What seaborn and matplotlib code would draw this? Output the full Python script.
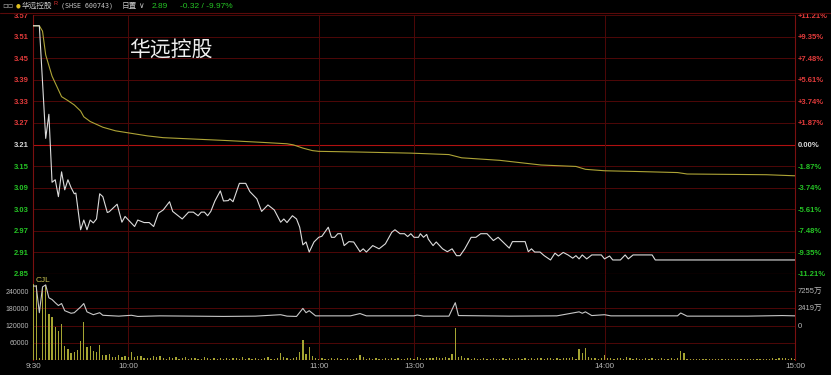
import matplotlib
matplotlib.use("Agg")
import matplotlib.pyplot as plt
import seaborn as sns
import pandas as pd
import numpy as np

# ---------------- data ----------------
prev_close = 3.21
price_ticks = [3.57, 3.51, 3.45, 3.39, 3.33, 3.27, 3.21, 3.15, 3.09, 3.03, 2.97, 2.91, 2.85]
pct_labels = ["+11.21%", "+9.35%", "+7.48%", "+5.61%", "+3.74%", "+1.87%", "0.00%",
              "-1.87%", "-3.74%", "-5.61%", "-7.48%", "-9.35%", "-11.21%"]
time_ticks = [0, 30, 90, 120, 180, 240]
time_labels = ["9:30", "10:00", "11:00", "13:00", "14:00", "15:00"]
vol_ticks = [60000, 120000, 180000, 240000]
vol_labels = ["60000", "120000", "180000", "240000"]
amt_ticks = [120000, 180000, 240000]
amt_labels = ["0", "2419万", "7255万"]

# price line vertices (minute since 9:30 in trading time, price)
price_min = [0, 2, 4, 5, 6, 7, 8, 9, 10, 11, 12, 13, 13.5, 15, 16, 17, 18, 19, 20, 21, 22, 23.4, 24,
             26.5, 28, 29, 32, 33, 35, 36.6, 38, 39.5, 41, 43, 44, 47, 49, 50.5, 52, 53, 54, 55, 56,
             57.3, 59, 60, 61.5, 62, 63, 65, 67, 68.3, 70.5, 72, 74, 76, 78, 79, 80, 81.7, 83, 84,
             85, 86, 87, 88.5, 90, 91, 93, 94, 95, 96, 97, 98, 99.5, 101, 103, 104, 105, 107, 109,
             111, 113, 114, 115.6, 117, 118, 119, 120, 121.4, 122, 123, 124, 124.5, 126, 127, 129,
             130.5, 132, 133.4, 134.5, 136, 138, 139.5, 141, 143, 145, 146.5, 148, 150, 151, 155,
             156, 157, 158, 159.7, 161, 163, 164.4, 165.5, 167, 168.5, 170, 171, 172, 173, 174.4,
             176, 179, 180, 181.6, 182.6, 185, 186.5, 187.5, 189, 195, 196, 240]
price_val = [3.54, 3.54, 3.227, 3.294, 3.105, 3.112, 3.065, 3.134, 3.084, 3.112, 3.09, 3.073, 3.075,
             2.973, 3.0, 2.973, 3.0, 2.992, 3.003, 3.073, 3.065, 3.021, 3.023,
             3.044, 2.994, 3.01, 2.982, 3.0, 2.993, 2.993, 2.982, 3.019, 3.028, 3.051, 3.024, 3.003,
             3.022, 3.022, 3.012, 3.022, 3.022, 3.012, 3.024,
             3.053, 3.081, 3.053, 3.054, 3.059, 3.051, 3.102, 3.102, 3.079, 3.059, 3.024, 3.042,
             3.028, 2.994, 3.003, 2.993, 3.012, 3.003, 2.98,
             2.931, 2.939, 2.911, 2.939, 2.952, 2.955, 2.98, 2.952, 2.952, 2.962, 2.962, 2.929, 2.94,
             2.939, 2.912, 2.92, 2.911, 2.929, 2.92,
             2.934, 2.966, 2.973, 2.962, 2.962, 2.954, 2.962, 2.952, 2.952, 2.962, 2.952, 2.96, 2.947,
             2.929, 2.939, 2.92,
             2.912, 2.92, 2.901, 2.901, 2.92, 2.952, 2.952, 2.962, 2.962, 2.943, 2.952, 2.939, 2.922,
             2.94, 2.94,
             2.912, 2.92, 2.911, 2.911, 2.901, 2.889, 2.908, 2.9, 2.91, 2.903, 2.894, 2.901, 2.892,
             2.903, 2.892,
             2.903, 2.903, 2.892, 2.9, 2.889, 2.889, 2.903, 2.892, 2.903, 2.903, 2.889, 2.889]

# average price line vertices
avg_min = [0, 2, 3, 4, 6, 9, 11, 13, 15, 16, 18, 22, 26, 31, 36, 41, 46, 51, 61, 72, 80, 82, 85, 88,
           90, 103, 119, 131, 135, 147, 160, 171, 174, 180, 190, 203, 206, 231, 240]
avg_val = [3.54, 3.54, 3.525, 3.459, 3.40, 3.343, 3.332, 3.32, 3.303, 3.287, 3.274, 3.258, 3.248,
           3.241, 3.234, 3.229, 3.227, 3.225, 3.221, 3.216, 3.212, 3.209, 3.2, 3.193,
           3.191, 3.189, 3.186, 3.182, 3.173, 3.166, 3.153, 3.149, 3.141, 3.137, 3.135, 3.132, 3.128,
           3.126, 3.123]

# per-minute volume (241 minutes)
volume = [
    265000, 262000, 8000, 252000, 262000, 159000, 150000, 114000, 100000, 127000,
    49000, 39000, 23000, 29000, 35000, 67000, 132000, 47000, 49000, 32000,
    27000, 53000, 18000, 17000, 22000, 12000, 10000, 18000, 9000, 14000,
    9000, 28000, 12000, 14000, 13000, 7000, 6000, 8000, 15000, 9000,
    13000, 7000, 5000, 11000, 6000, 9000, 4000, 7000, 10000, 5000,
    6000, 8000, 4000, 5000, 9000, 6000, 5000, 7000, 4000, 6000,
    5000, 7000, 4000, 6000, 8000, 5000, 9000, 4000, 6000, 5000,
    7000, 5000, 4000, 6000, 9000, 5000, 4000, 6000, 23000, 12000,
    6000, 5000, 7000, 9000, 27000, 69000, 21000, 47000, 15000, 6000,
    5000, 6000, 4000, 5000, 7000, 4000, 6000, 5000, 4000, 6000,
    5000, 4000, 6000, 17000, 10000, 4000, 6000, 5000, 7000, 4000,
    5000, 6000, 4000, 7000, 5000, 6000, 4000, 5000, 6000, 6000,
    5000, 10000, 6000, 5000, 7000, 8000, 6000, 10000, 8000, 7000,
    9000, 6000, 22000, 112000, 12000, 15000, 6000, 7000, 4000, 6000,
    5000, 4000, 6000, 5000, 4000, 6000, 5000, 4000, 7000, 5000,
    6000, 4000, 5000, 6000, 4000, 7000, 5000, 6000, 5000, 8000,
    6000, 5000, 7000, 6000, 5000, 8000, 5000, 6000, 7000, 6000,
    10000, 5000, 38000, 24000, 42000, 10000, 6000, 7000, 5000, 6000,
    16000, 6000, 8000, 5000, 7000, 6000, 5000, 9000, 6000, 5000,
    6000, 5000, 4000, 7000, 5000, 6000, 4000, 5000, 6000, 4000,
    5000, 6000, 4000, 6000, 30000, 24000, 3000, 5000, 4000, 3000,
    4000, 3000, 5000, 4000, 3000, 4000, 3000, 5000, 4000, 3000,
    4000, 3000, 5000, 3000, 4000, 3000, 5000, 4000, 3000, 4000,
    3000, 5000, 4000, 7000, 3000, 6000, 6000, 6000, 3000, 6000, 5000]

# secondary line in volume panel (vertices)
vline_min = [0, 1, 2, 3, 4, 5, 6, 7, 8, 9, 10, 12, 13, 15, 16, 17, 19, 21, 22, 27, 31, 33, 40, 50,
             60, 70, 78, 80, 83, 85, 86, 87, 89, 100, 103, 105, 120, 121, 123, 131, 133, 134, 150,
             165, 172, 173, 174, 176, 180, 182, 203, 204, 206, 225, 236, 240]
vline_val = [258000, 258000, 165000, 255000, 262000, 217000, 211000, 200000, 190000, 197000,
             172000, 163000, 165000, 185000, 197000, 168000, 158000, 165000, 156000, 153000,
             156000, 152000, 154000, 153000, 152000, 153000, 158000, 153000, 152000, 180000,
             165000, 172000, 154000, 154000, 162000, 154000, 154000, 157000, 153000, 153000,
             200000, 155000, 153000, 154000, 168000, 163000, 168000, 155000, 158000, 154000,
             154000, 164000, 153000, 153000, 155000, 154000]

# ---------------- figure ----------------
W, H = 831, 375
sns.set_theme(style="dark")
plt.rcParams['font.family'] = ['Liberation Sans', 'Noto Sans CJK SC', 'DejaVu Sans']
fig = plt.figure(figsize=(W / 100, H / 100), dpi=100, facecolor='black')

def fx(x):
    return x / W

def fy(y):
    return 1 - y / H

GRID = '#4f0808'
FRAME = '#7a1010'
RED = '#e23b3b'
GREEN = '#25c425'
GREY = '#b8b8b8'

L, R = 33, 795
ax_p = fig.add_axes([fx(L), fy(274), (R - L) / W, (274 - 15) / H])
ax_v = fig.add_axes([fx(L), fy(360), (R - L) / W, (360 - 274) / H])

for ax in (ax_p, ax_v):
    ax.set_facecolor('black')
    for s in ax.spines.values():
        s.set_color(FRAME)
        s.set_linewidth(0.8)
    ax.spines['top'].set_visible(False)
    ax.spines['bottom'].set_visible(False)
    ax.grid(False)
    ax.set_xlim(0, 240)

# price panel
df_p = pd.DataFrame({'m': price_min, 'p': price_val})
df_a = pd.DataFrame({'m': avg_min, 'p': avg_val})
for t in price_ticks:
    strong = t in (3.21, 2.85)
    ax_p.axhline(t, color='#b01010' if strong else GRID, lw=0.8 if strong else 0.7, zorder=1)
for t in [30, 90, 120, 180]:
    ax_p.axvline(t, color=GRID, lw=0.7, zorder=1)
sns.lineplot(data=df_a, x='m', y='p', ax=ax_p, color='#aea436', lw=0.8, estimator=None, zorder=3)
sns.lineplot(data=df_p, x='m', y='p', ax=ax_p, color='#dcdcdc', lw=0.8, estimator=None, zorder=4)
ax_p.set_ylim(2.85, 3.57)
ax_p.set_yticks(price_ticks)
ax_p.set_yticklabels([f"{t:.2f}" for t in price_ticks], fontsize=5.5, fontweight='bold')
for lab, t in zip(ax_p.get_yticklabels(), price_ticks):
    lab.set_color(RED if t > prev_close + 1e-9 else (GREEN if t < prev_close - 1e-9 else '#d8d8d8'))
ax_p.tick_params(axis='y', length=0, pad=3)
ax_p.set_xticks([])
ax_p.set_xlabel('')
ax_p.set_ylabel('')

ax_p2 = ax_p.twinx()
ax_p2.set_ylim(2.85, 3.57)
ax_p2.set_yticks(price_ticks)
ax_p2.set_yticklabels(pct_labels, fontsize=5.5, fontweight='bold')
for lab, t in zip(ax_p2.get_yticklabels(), price_ticks):
    lab.set_color(RED if t > prev_close + 1e-9 else (GREEN if t < prev_close - 1e-9 else '#d8d8d8'))
ax_p2.tick_params(axis='y', length=0, pad=2)
for s in ax_p2.spines.values():
    s.set_visible(False)
ax_p2.grid(False)
ax_p2.set_ylabel('')

# volume panel
df_v = pd.DataFrame({'m': np.arange(len(volume)), 'v': volume})
df_l = pd.DataFrame({'m': vline_min, 'v': vline_val})
for t in [60000, 120000, 180000, 240000]:
    ax_v.axhline(t, color=GRID, lw=0.7, zorder=1)
ax_v.axhline(0, color='#8a1010', lw=0.9, zorder=1)
for t in [30, 90, 120, 180]:
    ax_v.axvline(t, color=GRID, lw=0.7, zorder=1)
sns.barplot(data=df_v, x='m', y='v', ax=ax_v, native_scale=True, width=0.4,
            color='#a5a532', saturation=1, linewidth=0, zorder=3)
sns.lineplot(data=df_l, x='m', y='v', ax=ax_v, color='#c8c8c8', lw=0.8, estimator=None, zorder=4)
ax_v.set_xlim(0, 240)
ax_v.set_ylim(0, 300000)
ax_v.set_yticks(vol_ticks)
ax_v.set_yticklabels(vol_labels, fontsize=5, color=GREY)
ax_v.tick_params(axis='y', length=0, pad=3)
ax_v.set_xticks(time_ticks)
ax_v.set_xticklabels(time_labels, fontsize=5.8, color=GREY)
ax_v.tick_params(axis='x', length=0, pad=2)
ax_v.set_xlabel('')
ax_v.set_ylabel('')

ax_v2 = ax_v.twinx()
ax_v2.set_ylim(0, 300000)
ax_v2.set_yticks(amt_ticks)
ax_v2.set_yticklabels(amt_labels, fontsize=5.5, color=GREY)
ax_v2.tick_params(axis='y', length=0, pad=2)
for s in ax_v2.spines.values():
    s.set_visible(False)
ax_v2.grid(False)
ax_v2.set_ylabel('')

ax_v.text(0.003, 0.97, 'CJL', transform=ax_v.transAxes, fontsize=6, color='#c8c050',
          va='top', ha='left', zorder=6)

# header
fig.add_artist(plt.Line2D([0, 1], [fy(12.5), fy(12.5)], color='#5a0a0a', lw=0.8))
fig.text(fx(2), fy(6), '▫▫', fontsize=6, color='#a0a0a0', va='center', family='DejaVu Sans')
fig.text(fx(16), fy(6), '●', fontsize=4, color='#e0c020', va='center', family='DejaVu Sans')
fig.text(fx(22), fy(6), '华远控股', fontsize=5.5, color='#c8c8c8', va='center',
         family=['Noto Sans CJK SC'])
fig.text(fx(54), fy(3.5), 'R', fontsize=4, color='#e03030', va='center')
fig.text(fx(61), fy(6), '(SHSE 600743)', fontsize=4.8, color='#c8c8c8', va='center',
         family='DejaVu Sans Mono')
fig.text(fx(122), fy(6), '日置', fontsize=5.5, color='#c8c8c8', va='center',
         family=['Noto Sans CJK SC'])
fig.text(fx(138), fy(6), '∨', fontsize=5.5, color='#c8c8c8', va='center', family='DejaVu Sans')
fig.text(fx(152), fy(6), '2.89', fontsize=6, color=GREEN, va='center')
fig.text(fx(180), fy(6), '-0.32 / -9.97%', fontsize=6, color=GREEN, va='center')

# big title
fig.text(fx(129), fy(50), '华远控股', fontsize=15, color='#f0f0f0', va='center', ha='left',
         family=['Noto Sans CJK SC'])

fig.savefig('out.png', dpi=100, facecolor='black')
